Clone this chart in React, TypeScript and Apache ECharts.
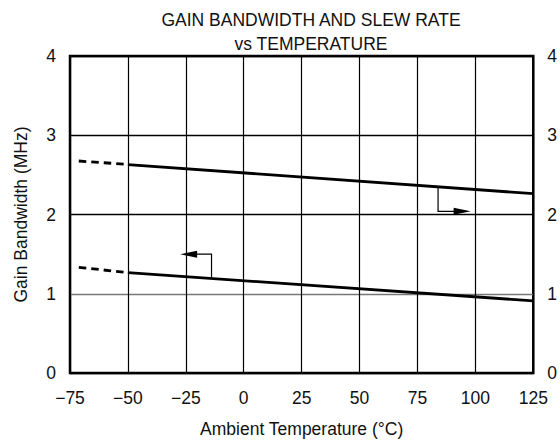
import React, { useEffect, useRef } from "react";
import * as echarts from "echarts";

const tempTicks = [-75, -50, -25, 0, 25, 50, 75, 100, 125];
const yTicks = [0, 1, 2, 3, 4];

// Slew rate curve (upper, read against right axis)
const slewSolid: [number, number][] = [[-50, 2.63], [125, 2.263]];
const slewDashed: [number, number][] = [[-71.2, 2.675], [-51.5, 2.635]];
// Gain bandwidth curve (lower, read against left axis)
const gbwSolid: [number, number][] = [[-50, 1.267], [125, 0.91]];
const gbwDashed: [number, number][] = [[-71.2, 1.333], [-51.5, 1.272]];

// Pointer arrows (shaft) and their heads
const arrowRight: [number, number][] = [[83.9, 2.35], [83.9, 2.04], [96, 2.04]];
const arrowLeft: [number, number][] = [[-13.9, 1.193], [-13.9, 1.5], [-25, 1.5]];
const headRight: [number, number][] = [[94.3, 2.04]];
const headLeft: [number, number][] = [[-23.8, 1.5]];

const FONT = "Liberation Sans, Arial, sans-serif";
const FS = 17.5;

export default function App() {
  const ref = useRef<HTMLDivElement>(null);
  useEffect(() => {
    if (!ref.current) return;
    const chart = echarts.init(ref.current, undefined, { renderer: "svg" });
    const minus = (v: number) => String(v).replace("-", "\u2212");
    const lineSeries = (data: [number, number][], dashed: boolean) => ({
      type: "line",
      data,
      showSymbol: false,
      symbol: "none",
      lineStyle: { color: "#000", width: 2.8, type: dashed ? [7.5, 5] : "solid" },
      silent: true,
      z: 5,
    });
    const arrowSeries = (data: [number, number][]) => ({
      type: "lines",
      coordinateSystem: "cartesian2d",
      polyline: true,
      lineStyle: { color: "#000", width: 1.2, opacity: 1 },
      data: [{ coords: data }],
      silent: true,
      z: 6,
    });
    const headSeries = (data: [number, number][], rot: number) => ({
      type: "scatter",
      data,
      symbol: "triangle",
      symbolSize: [7, 17],
      symbolRotate: rot,
      itemStyle: { color: "#000", opacity: 1 },
      silent: true,
      z: 7,
    });
    chart.setOption({
      animation: false,
      title: {
        text: "GAIN BANDWIDTH AND SLEW RATE\nvs TEMPERATURE",
        left: 306,
        top: 3,
        textAlign: "center",
        textStyle: { fontFamily: FONT, fontSize: FS, fontWeight: "normal", color: "#111", lineHeight: 24 },
      },
      grid: { left: 70, right: 18, top: 56, bottom: 66, show: true, borderColor: "#000", borderWidth: 2.5, backgroundColor: "transparent" },
      xAxis: {
        type: "value",
        min: tempTicks[0],
        max: tempTicks[tempTicks.length - 1],
        interval: 25,
        name: "Ambient Temperature (\u00b0C)",
        nameLocation: "middle",
        nameGap: 47,
        nameTextStyle: { fontFamily: FONT, fontSize: FS, color: "#111" },
        axisLine: { show: false },
        axisTick: { show: false },
        axisLabel: { fontFamily: FONT, fontSize: FS, color: "#111", margin: 16, formatter: minus },
        splitLine: { show: true, lineStyle: { color: "#000", width: 1.2 } },
      },
      yAxis: [
        {
          type: "value",
          min: yTicks[0],
          max: yTicks[yTicks.length - 1],
          interval: 1,
          name: "Gain Bandwidth (MHz)",
          nameLocation: "middle",
          nameGap: 40,
          nameTextStyle: { fontFamily: FONT, fontSize: FS, color: "#111" },
          axisLine: { show: false },
          axisTick: { show: false },
          axisLabel: { fontFamily: FONT, fontSize: FS, color: "#111", margin: 14 },
          splitLine: { show: true, lineStyle: { color: ["#000", "#777", "#000", "#000", "#000"], width: 1.3 } },
        },
        {
          type: "value",
          min: yTicks[0],
          max: yTicks[yTicks.length - 1],
          interval: 1,
          position: "right",
          axisLine: { show: false },
          axisTick: { show: false },
          axisLabel: { fontFamily: FONT, fontSize: FS, color: "#111", margin: 14 },
          splitLine: { show: false },
        },
      ],
      series: [
        lineSeries(slewSolid, false),
        lineSeries(slewDashed, true),
        lineSeries(gbwSolid, false),
        lineSeries(gbwDashed, true),
        arrowSeries(arrowRight),
        arrowSeries(arrowLeft),
        headSeries(headRight, -90),
        headSeries(headLeft, 90),
      ],
    });
    return () => chart.dispose();
  }, []);
  return <div ref={ref} style={{ width: 560, height: 443, position: "absolute", left: 0, top: 0 }} />;
}
